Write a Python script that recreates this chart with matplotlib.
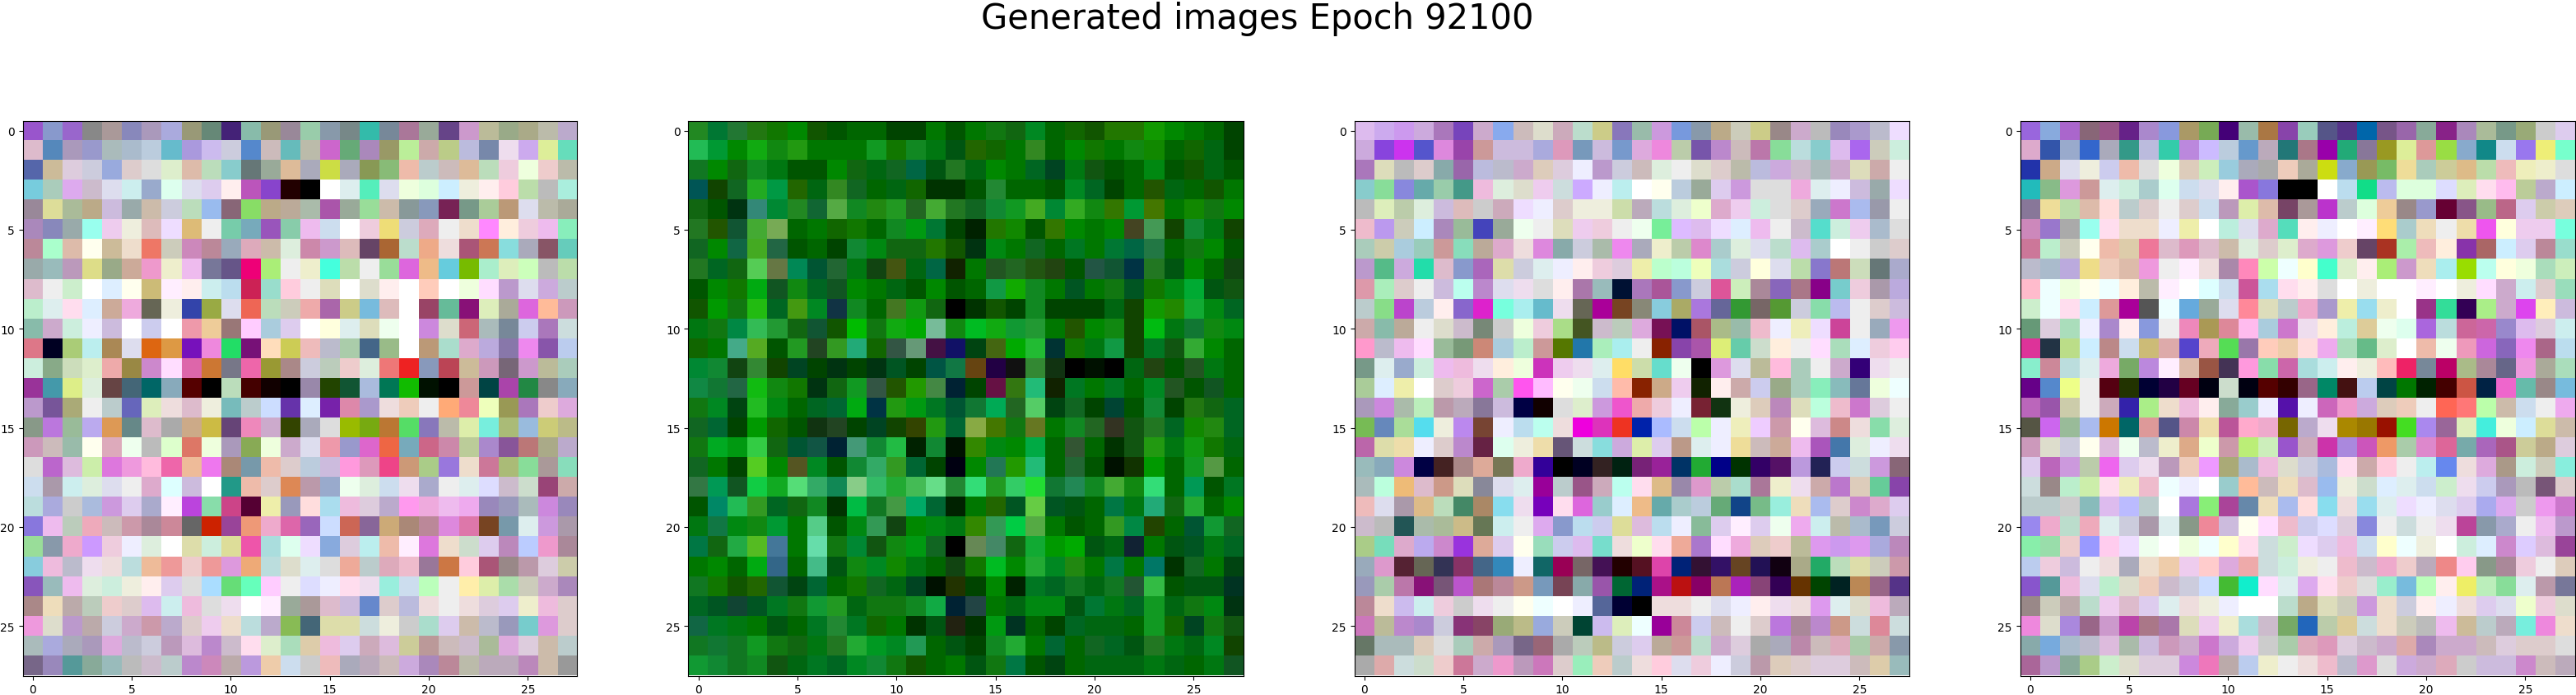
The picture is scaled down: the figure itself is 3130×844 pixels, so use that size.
import matplotlib.pyplot as plt
import numpy as np

title = 'Generated images Epoch 92100'
ticks = [0, 5, 10, 15, 20, 25]

# every cell is a short hex colour: one digit each for r, g, b
image1 = [
	"95c 89c 96c 888 a99 88b a9b aad 997 687 427 8ba 997 989 9ca 89a 788 3ba 789 a79 9a9 648 c9c bb9 9a8 aa8 bba bac",
	"dbc 58b a9b 99c abb abc bcd 6bc a9d cbe ccd 58c cbb 6bb bba c6c 6a7 a8b 996 be9 caa bc8 bbd 78a ede cae de9 6db",
	"56a cb9 dcd ccd 9ad dcc ddd dec dba bdb 8cc 677 9a9 db9 aab cd4 aab 895 8b7 eba bcc cbb db9 bdb ecd efd ecc bba",
	"7cd acb dae cbc dde cee 9ac dfe dde dce fee b5b 84c 200 000 fff dee 5eb dde efd dfd cef eed fee fcd bda bbb aed",
	"989 dd9 ab9 ba8 cbd 9aa cba ccd bdb 9be 867 8d6 ba8 ba9 aba a5a 9a9 9d9 cba 899 89b 725 798 ac9 b97 dde bba aa9",
	"a8b 88b 9aa 9fe ece eed dbb edf db7 eee 7ca 7ab 95b 8ca ebe cde fff ecd ed7 ccd dab eee edc f8f fed ecd ebe 8eb",
	"b89 afc dba ffe cb9 edc e76 ccb c8b b89 9ab dab cba ded c8a c9c dbb 646 a63 bdc ea8 edd a57 c75 8dd aab 856 6cb",
	"9aa 9bb b9b dd8 9a8 ca9 e9c eec ebe 779 658 e07 ae7 eee eec 4fd bda eee 9d9 d6d eb8 6cd 7b0 aec deb cfb bbb bda",
	"dbc eee cec fff def ffe cb7 fef fee cee bde c25 9dc fcd eee ddb fff ddc fee fff fcb fff efd fdf b9c dde cad bcc",
	"bec dee fde def ca9 ead 665 eed 34a 9a4 dde e65 bdb ccb eaa a6a cc8 7bd dbb fff 946 6b9 817 deb aa9 d6d fb9 c9b",
	"8ba cac ced eef cbd fff cce fff e9a ec9 977 fcf acd dce fff ffd dee ddb efe fff c8d ddc c67 abb 789 cce a7b cdd",
	"d78 002 ac7 bee a85 dde d61 d94 71b e8d 2d6 717 fdb cc5 ebb bbc aca 468 9b8 fff b97 adc dac bad 87a e8e 85a bce",
	"ced 8a8 cdb dec eaa 984 c8c fdf d6a c73 778 e6a 993 a88 ccd bcb ecc ded e77 e22 89b b45 cb9 c9b 767 c9c bb9 acb",
	"939 49a de8 ded 644 467 066 8ab 500 000 bdb 400 100 000 98a 240 153 abd 075 1b0 010 000 c99 044 a4a 284 888 8ab",
	"b9c 759 aa7 eee bcc 66b deb edd dbc eed 7bb bcc cdf 63a def 72a d8a a9c edd ecb eee fa7 e89 efb 995 a7b ecc dad",
	"898 b7d 9b9 bae d95 688 dbc aaa ca8 cb4 647 e8b cac 340 aab ddd 9b0 7a1 b73 5d6 87b bba dea 7ed ab7 9bd cc7 bb8",
	"c9b cbb 9ba ffe dab efe bbb dfc d76 efd a9b 8a5 efd cac dde e9a 99c d6c e64 7ab c68 c8a bc9 a8c 859 b77 aa8 bac",
	"ddd b6c dbd cea d7d e9d fbd e6a eb9 e7e a87 79a eba dcc bcd cbd f9d d9b e48 c97 ac8 97d edc c79 ab7 8d9 a99 8db",
	"cde a9a cee ded dde eee dac dff cbd fff 298 eba dcc d85 b9a 9ac efe ded cde ede aac eee dee ddf cbc cdc 947 caa",
	"bdd aad ccc abd c9d dce aac fef b4d 8da c48 503 eea 99b fdd ade ebd dcd bac f9e ead ebe eae 98b 99b abb c8d 98b",
	"87d ebe bcb eab cbb c9a a89 c89 666 c20 949 e97 eac d6a 96b cdf c65 869 ca7 a87 b89 d8d d7a 742 79a dee c9d a9a",
	"9d9 89a eac c9f ecd eef ded fff dda ced dd9 e5a add dfe edf 8ad dcd bee eba fef d7d edc cdc dce b8b bcf e9c a89",
	"8cd ebd bbc ede edd bdd eb9 e99 ecc e99 d9d ea7 bdd ddc dee ddd ea9 bcc dab ebc 979 c74 fcd a57 988 b9a dcd cca",
	"85b 9bb ebe ded ced eed fee dce ddd adf 6d7 6fb fcf eee ddf eef fde ede 9ed cde bfb eee fea dea ada ccb cac a8b",
	"a88 edb baa bcb ecc dcc dbe cee ebd ddd ede fff fef 9a9 a99 dbc cbd 68c dcc bbd edd eee edd dcd dce eec ebd dcc",
	"e9d ddc b9c baa ccd cac c9a bac dcc ece edc bdd bac 8b5 467 dda dda cdd eed ccc adc dce cba bbc 99b 7cc d9d dcc",
	"abb aad aab a9b dad bbc ccd b9b dbd b8c cbc fde dec adb dca ebd dce cab dbd cc9 b99 cbb cbc ab9 dad dcd cba bcc",
	"768 98b 599 8a9 9bb bbb cbc bcc b8c c8b baa b9d eca cde ccc ebb aab bab cbb cad a8b b89 bba bab bab b8b cba 999",
]

image2 = [
	"282 073 273 271 170 080 150 050 060 060 040 040 070 050 070 171 161 082 060 160 150 270 270 190 080 070 060 040",
	"2b5 093 080 1a1 181 291 070 070 070 192 170 182 071 051 260 160 070 382 060 080 170 070 181 180 060 160 061 040",
	"172 080 161 182 071 050 050 080 161 061 162 064 051 272 061 080 070 062 042 071 151 050 060 081 050 150 061 050",
	"055 140 162 2a2 094 260 061 382 162 060 061 160 030 030 050 283 060 060 050 082 062 040 060 250 061 060 150 070",
	"161 050 031 387 083 282 163 5a4 182 281 292 262 4a3 272 162 183 192 4a2 083 3a2 181 370 093 470 070 180 171 080",
	"272 250 153 4a3 7a5 060 070 160 170 060 182 091 073 040 020 270 180 050 370 080 070 080 442 495 140 183 071 140",
	"162 080 164 4a2 264 050 060 040 183 081 161 161 270 150 031 081 070 162 060 072 070 073 064 274 060 171 080 050",
	"272 062 161 5c5 674 085 053 263 071 141 451 061 064 120 070 252 262 251 241 050 254 153 034 272 051 080 060 141",
	"050 080 170 0a1 152 181 062 152 080 070 061 050 080 050 060 194 1a0 182 070 052 070 171 052 170 081 0a3 051 151",
	"150 090 171 2b1 062 491 082 134 182 060 472 191 161 000 030 150 040 182 040 040 040 061 140 190 280 1a3 081 062",
	"071 171 084 3b5 293 161 153 150 0b0 171 1a1 0a0 7b9 181 0b2 1a1 193 293 070 250 080 181 140 0b1 071 173 181 081",
	"160 070 4a8 5a2 050 292 242 392 2a7 160 354 697 414 116 041 461 0a0 2b3 033 170 071 194 140 072 151 3a3 080 060",
	"083 183 141 383 140 042 040 031 040 031 052 040 054 174 641 204 111 383 131 000 010 000 061 241 050 252 071 060",
	"184 173 264 1b1 181 170 031 161 192 354 250 290 484 023 040 614 371 2b7 120 072 070 072 060 082 252 050 152 060",
	"171 082 041 2b2 081 060 062 063 0a1 034 291 091 072 053 173 0a5 262 5c6 041 162 040 043 050 183 040 271 161 062",
	"162 063 040 090 160 050 131 242 040 042 140 340 291 063 8a4 470 171 672 070 182 262 332 151 272 062 180 281 062",
	"171 0a2 091 3c4 161 053 154 023 497 183 2b4 020 183 010 380 081 080 0a4 060 353 060 030 151 291 071 191 170 061",
	"162 070 040 5c2 080 552 082 050 183 3a6 392 063 040 001 080 275 290 2b7 060 263 050 010 130 090 060 192 594 060",
	"374 095 152 1c4 1a2 5d7 3a6 185 8c8 3b6 2a3 4b5 6d8 283 3d7 292 3c6 2d3 173 285 182 4a3 181 3d7 060 095 050 072",
	"050 086 2b5 392 062 161 182 030 0b4 172 494 0a6 063 020 070 260 052 6c4 052 051 060 074 071 2a7 161 2a3 060 080",
	"071 174 081 181 093 070 5c8 050 081 395 141 080 081 071 380 395 0c4 5a4 070 050 060 392 084 240 060 053 193 162",
	"074 161 2a4 5b2 479 070 6da 171 083 151 181 091 162 000 685 486 161 1a3 090 0a0 051 061 123 070 051 052 071 062",
	"070 080 060 0a1 368 060 4b8 051 181 082 180 071 060 141 170 0b2 080 2a3 082 281 070 074 070 076 030 162 070 041",
	"172 170 150 260 153 041 063 060 170 162 061 042 010 230 040 080 020 072 062 172 061 172 253 3b4 050 051 051 032",
	"062 052 143 052 072 171 193 292 061 171 171 182 1a4 023 244 070 061 081 081 051 073 071 062 192 061 171 081 031",
	"164 072 071 070 051 060 072 283 072 160 070 030 051 221 030 091 032 060 040 062 061 061 060 192 160 042 171 151",
	"172 173 172 192 171 161 071 272 2a3 092 082 295 060 051 040 182 2a3 070 063 060 162 062 051 272 071 061 082 140",
	"193 183 172 182 151 061 072 062 082 183 171 150 060 070 051 171 074 050 041 060 061 061 061 071 061 060 071 152",
]

image3 = [
	"dbe cae c9e cad a7b 74b cac 8ae cbb ddc cab bdc cc8 87b 9ba c9d 79d 89a ba8 ccb cc8 988 cac bbb 98b a9c bbc edf",
	"cad 84d c3e 55c d8d 94a c99 cbd cbd aad d9b 79b cbd 79c dad e8d bca 75a b8c cbb b7a 8d9 bdd 8cc dbe a6e ccb ced",
	"a7b ddb bbb dcc 8aa 96a bbd bbc cac dcb dcd eef b9c ccd cbb ded eee ddc dcc bba bbd cad cbc abb cac ddb caa eee",
	"8cc 8d9 88d 6aa 9ca 498 ebd ded ddc ece cdd caf eef bee fff ffe bcd 9a9 dce c9d ddd ddd ead dee eef cbd 9aa edf",
	"bbb deb bca ded cbd dbb ccc cab edf eef dcc eed eed cda bab bdd ded efc dac ece ced ddd dcc 9ab c7c abe 99a eee",
	"ebc b9e ccb cef a8b 9b9 44b 9a9 efe eee ddb ece ecd eee efe 7e9 dbf dbe edf def ebe eee cbc 5dc ced ece abc ddd",
	"acb cca acd 9cb c99 8db ba9 dac edd d8d 8aa ccd aba e8e aab eec bca d8c acc ded dde bdc dbe acc fff eee ccc dcc",
	"b9c 5b8 cad 2da dbc 89c a6b dda ccd dee eef fee ecd dcd eea bfc bfd efb add ccd ffd dde bda 87c b77 cdb 677 aac",
	"d9a aeb dcc eee cbd bfe b8c dde ede ddd fee a7a 9bb 013 a7b a59 89c ccd d59 ceb a89 86b a78 808 7cc ecd a9a bad",
	"bcc 8d8 b4c bcd fee 86c d2c 7fd aee 6bc ede 665 a09 742 887 8cd aa6 a7d 669 393 766 593 ccd 8da bbe eee dcc cbd",
	"caa 8ba ba9 eee ddc cbc 787 ccc efd ecd ad8 452 cbc bcb dad 715 016 a56 ab8 9ba ebc eef eeb edf c49 eee 9ab e9e",
	"f9c bbc ebe fdf 9b9 797 c87 acd bec c99 570 27a aeb aee eee 820 84a a5a de7 6ca cdc fed eee fdf adb def ecd fce",
	"798 dee 9ac ced ebe ebd ede fed efd c3b ece ede dee fd6 cda 6dc efe 000 d9d dde bb9 fbd acb eee cac 307 ede eee",
	"ac9 def eea fff dcc ecd c6c aca f5e fbf ffe efe cde fba 820 ca8 ece 120 fee caa cce 9a8 acb 8eb 8bb 679 efd eff",
	"a9b c8d aba beb b9a bab 879 cbd 004 100 ddd dec c9d e5c eaa ecd eef 723 131 eed dcb b8b ddb bfd ebc c7c dcd eee",
	"7b5 68b ad9 5de eed b8e 743 eef bde bfe edd e0d d3b e32 02a abf cde bfa eef eeb ecf c9a ffe dbd c88 edd 8da ded",
	"b6a dda eda eef dcc b8c 624 dfe eed eda 657 cdd 8dd cad dea dce b98 dee eef ed9 cbb ca9 ebe a5b 47a ded eef ede",
	"9bb 8ab c8d 004 422 a88 da9 775 eac 309 000 002 322 021 727 929 036 2a3 008 030 306 516 b9d 225 cce cdd c9d 867",
	"abb bfd eb7 dbc c98 ddb 889 dde dee 909 bcc 958 cab bfe fde db8 98a d9c bca adc a79 eec ede caa b7c dcb 6c9 84a",
	"ebb dde a9a db8 bdb 486 a86 8de ede 70b fde d6d 9cc def eb8 6aa acc bcd 6a7 148 7b8 9ed edb abe dcc c8c dac dce",
	"cbc bbb 255 aba ab9 cb8 675 cee eee dae 89c bde cce dd9 dbd bde eef 8b9 dce fef dce efe eae cee bba abc 79b ccd",
	"ac8 7db dac bae c8c 93d da9 dce ffe 9db cce dbe 7dc edd efc fde ea9 a7c fdf ead dcb ecc bb9 d9e c9e d9e aad b8b",
	"9ab d9c 523 665 335 836 468 38b eef 166 905 766 415 200 512 d4a 027 313 316 642 215 101 aa8 2a6 bdb dda ccb c9a",
	"99b aca b7a 817 757 b5c a77 b89 c98 79b 745 8aa 95a 063 027 a18 b11 806 b75 a2b 847 305 630 040 022 b85 968 538",
	"b89 edc cbe cee ecd ccc ede eee ffe eff fff eef 569 003 000 edd edd eee dde eef fee ede edd d9e dee ddc ebd bab",
	"c7b bb9 b8c a8c ccd 837 846 9a7 bb8 9ad ccb 043 cbe deb eff 909 c89 cce cbb eee dcc b7d a89 b8c c98 cdd d89 cdd",
	"676 abb abb dcb ddd acb caa a9b 768 967 aaa bcb bb8 ccd dce ba9 c99 bdc cac dcd aaa aab b8a cbb dab aca caa 89a",
	"aaa daa cdd cdc ecc c79 cac e9c b9b c7b dcc 9eb ecb bcc edd fcd dde ecd eef ccd b9a dcb dcc dcd dcd cbb dca 9bb",
]

image4 = [
	"96d 8ad a6c 867 958 628 a8c 89d a96 7a5 407 9ba a74 84a 9cb 558 538 06a 758 96a 8a9 828 a8b ab9 798 9a7 ccc dce",
	"dac 35a 9ac 36c aab 398 bbd 3ca b8d cbf bcd 69c bab 277 a78 90a 2a7 879 992 de9 d99 9d4 8ac 188 cde 97e ee7 7fc",
	"23a ca8 dde eed cce eba ddd efd dcb ceb 9cd aab aaa ecb aa9 cd1 8ac 995 7b6 ed9 acb cc9 db8 bda ebb eeb eec ddd",
	"2bb 8b8 d9d c99 dee ced acc dfe cde dde fee a5c 87d 000 000 fff bde 1d8 bbe dfd dfd ddf deb fde fbe bc9 bac cef",
	"879 ed9 bda dba fdd bcc dcc eee dcc cde b9b dea dba 746 a99 b3c bcc dfd ec9 988 99c 603 858 9b8 b68 dce cca dcb",
	"c8b 97c aaa 9fe fde edc edc eef eea fff bed dde dac 5db fee eef fff fef fd7 acc edb eee eda e5e ffd ece ece 7fd",
	"c79 bec ccb ffe eba dca e79 dbc d9b dbc cba ded dcc dec dac d9d ecc 646 a32 aea ebb fed 83a a66 cef dce b89 9dc",
	"bbc abc bad ed8 ecb dba e9d eee fef edd a8a f8b cfa eff ffc 4fc dec fee ae7 c9c edb aee 9d0 bfe ffd efd adb ceb",
	"fbc eff efd ffe eff fed bba fef fff dff cde c59 ade fde fee ddd fff eed fff fff fef fff eed fdf cac cee dcc 9db",
	"cec eff fde cef d99 a09 555 eff 6ad 9a9 dde f89 ddb bcc eac a9c eea 9de eec fff 938 3d9 305 ae8 cac d4e feb cbd",
	"697 dcd adb eef a8c fee 89d eee e8b a95 d89 fbe acd c7c ede fed bed dc9 efe dfe a6d bdd c69 c6a 98c dbe dcd cee",
	"d39 234 bd8 cef b88 cde cb7 daa 54c eab 5d5 97a fcb eca fdd eae adb 6b8 dec fff eba efe e9b c6d 86b e8e a68 bde",
	"8ec c89 bdd dee ead 7a6 b8d fef dba 954 435 f9d 8da c6a add cee fee eed fbb e26 789 b06 ab8 a89 668 e9d aa9 adb",
	"608 58c ef8 eee 501 230 003 204 602 001 cdc 001 500 300 968 086 411 bce 044 070 020 400 c54 024 e6c 6ba 988 7bd",
	"b6b 95a cca eee cab 32a ae8 edc ebd fee 8a9 9cc eef 51a eef c6b e9c cad dcb ecb eee f65 f77 bfa cba cde eee eae",
	"554 c6e 9b9 abe c70 066 d99 558 c8a eda b59 fac eac 760 bac ede a80 970 910 4d2 a8e 969 deb 4ed efd cef dd9 cba",
	"c9b ddc ccd ffe dbd efe bbc eec da8 efc c9a be7 ceb 95c cab c3a a8d c5b e96 aca d8c d69 7aa a6b a58 cc9 ba8 dcd",
	"dce b6b c9d bca e6e dce ede b9b ecb e9f aa7 abc ebd ddc ccd abd fde caa fcd eee bee 68e edd dad a98 ced ccb 8ed",
	"cdd 988 bec cea fde eeb ebc eff eef fff 9cc fb9 cbb edb dbc 9be eed cdc def dee cde cec ede cce a9b bbb 757 dcc",
	"bcc bcc ccc 8bb dbe bbf bcc fff a7d 8e7 a49 68a edb abe fdd 8de edd 9de dee edf eef dde dce aae dae ccc e9e c7c",
	"98e eac bdc eab dee ccd a9a dee 898 e89 cbd ffe fdf ebc cce ddf dcd 88d eee cdd eee ede b49 89a aac eee ebe b9c",
	"8ea 9da ecc 99f fce edf efe fff efd eff ffc fde cdd cec edf dce ebd cde ffc eff eed fff ced def c8c dcf dbd 949",
	"bce ecd cbd eee edd aab edc eca ece fcc dad eaa cdd ced eed eee ebc cbc eac ecc bab e88 fce 898 a89 ecd eee dcb",
	"85c 599 ebd dde bec ddc ecb cbc ccd cdf 4b3 1ec fdf dee dae fde ecc ddd 9ec 7bd bfb fee ee6 beb 8d9 dee b9a 779",
	"988 ccb baa bdc ece dbc dce dee edd eed eef fff fff bdc ba8 ddb ccb c9d edc ccd fee eef edd dce dde efc ecd ddc",
	"e8d ddc a8d 968 c9c b4a a78 a7a ddb ece eec add cbc 7a6 26b bca dc9 cdd edc ccb bbb ebe cb9 bcc bab 7ed e8d edc",
	"8aa 7ad abc bbc dbd aba cbd c9b cac c7c cad ece ccc aca dab d9b dcd cbc cac daa a8b cac cac cbb dcd dcc dcc ddd",
	"a69 b9c 8a9 ac8 cec ddc dcd dcd c8d e7b baa bce eec eee edd ebc bbc d9c ddd cad cac dab ccc cbd cbd c8c cbb bab",
]


def toPixels(rows):
	# short hex strings -> 28x28x3 array in 0..1
	pix = []
	for row in rows:
		pix.append([[int(c, 16) / 15 for c in cell] for cell in row.split()])
	return np.array(pix)


images = [toPixels(image1), toPixels(image2), toPixels(image3), toPixels(image4)]

W, H = 3130, 845
fig = plt.figure(figsize=(W / 100, H / 100), dpi=100)

#axes placed by pixel, same size and gap as the original
for i, img in enumerate(images):
	left = 27.5 + 809 * i
	ax = fig.add_axes([left / W, (H - 821.5) / H, 674 / W, 674 / H])
	ax.imshow(img)
	ax.set_xticks(ticks)
	ax.set_yticks(ticks)

fig.suptitle(title, fontsize=30, x=1528 / W, y=1 - 2 / H, va='top')

fig.savefig('out.png', dpi=100)
